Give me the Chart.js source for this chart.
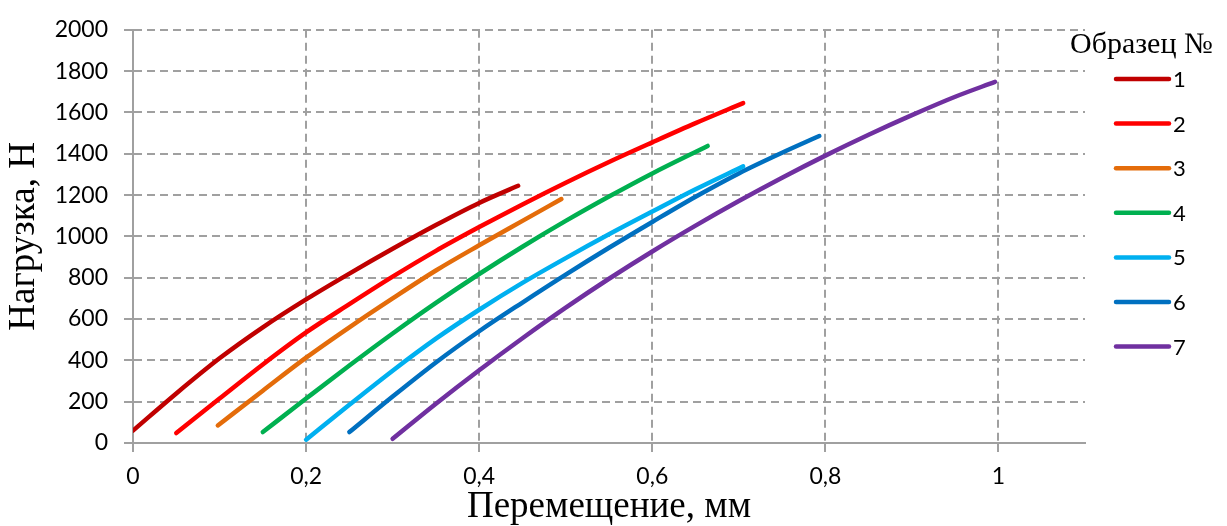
<!DOCTYPE html>
<html>
<head>
<meta charset="utf-8">
<script src="https://cdn.jsdelivr.net/npm/chart.js@4/dist/chart.umd.min.js"></script>
<style>
  body { margin: 0; background: #fff; }
</style>
</head>
<body>
<canvas id="line-chart" width="1227" height="526"></canvas>
<script>
// values: [перемещение мм, нагрузка Н]
var sample1 = [[0, 60], [0.05, 240], [0.1, 410], [0.15, 560], [0.2, 695], [0.25, 820], [0.3, 940], [0.35, 1055], [0.4, 1162], [0.445, 1245]];
var sample2 = [[0.05, 48], [0.1, 215], [0.15, 380], [0.2, 535], [0.25, 672], [0.3, 805], [0.35, 930], [0.4, 1045], [0.45, 1155], [0.5, 1260], [0.55, 1360], [0.6, 1455], [0.65, 1548], [0.705, 1645]];
var sample3 = [[0.098, 85], [0.15, 253], [0.2, 413], [0.25, 560], [0.3, 700], [0.35, 835], [0.4, 957], [0.45, 1075], [0.495, 1181]];
var sample4 = [[0.15, 53], [0.2, 215], [0.25, 375], [0.3, 530], [0.35, 678], [0.4, 818], [0.45, 950], [0.5, 1075], [0.55, 1193], [0.6, 1305], [0.664, 1438]];
var sample5 = [[0.2, 16], [0.25, 185], [0.3, 350], [0.35, 505], [0.4, 645], [0.45, 775], [0.5, 895], [0.55, 1010], [0.6, 1120], [0.65, 1228], [0.705, 1339]];
var sample6 = [[0.25, 53], [0.3, 225], [0.35, 390], [0.4, 541], [0.45, 680], [0.5, 815], [0.55, 945], [0.6, 1070], [0.65, 1192], [0.7, 1305], [0.75, 1405], [0.793, 1486]];
var sample7 = [[0.3, 20], [0.35, 190], [0.4, 352], [0.45, 507], [0.5, 655], [0.55, 795], [0.6, 927], [0.65, 1052], [0.7, 1171], [0.75, 1284], [0.8, 1391], [0.85, 1492], [0.9, 1587], [0.95, 1676], [0.996, 1748]];

var samples = [sample1, sample2, sample3, sample4, sample5, sample6, sample7];
var sampleNames = ["1", "2", "3", "4", "5", "6", "7"];
var colors = ["#C00000", "#FF0000", "#E46C0A", "#00B050", "#00B0F0", "#0070C0", "#7030A0"];

var xTicks = [0, 0.2, 0.4, 0.6, 0.8, 1];
var yTicks = [0, 200, 400, 600, 800, 1000, 1200, 1400, 1600, 1800, 2000];

var gridColor = "#A0A0A0";
var tickFont = { family: "Lato", size: 23 };
var titleFont = { family: "Liberation Serif", size: 37, lineHeight: 1 };

var datasets = samples.map(function (pts, i) {
    return {
        label: sampleNames[i],
        data: pts.map(function (p) { return { x: p[0], y: p[1] }; }),
        borderColor: colors[i],
        backgroundColor: colors[i],
        borderWidth: 4.5,
        borderCapStyle: "round",
        pointRadius: 0,
        showLine: true,
        cubicInterpolationMode: "monotone"
    };
});

// legend drawn by hand so it sits where Excel put it
var sideLegend = {
    id: "sideLegend",
    afterDraw: function (chart) {
        var ctx = chart.ctx;
        var right = chart.chartArea.right;
        ctx.save();
        ctx.fillStyle = "#000";
        ctx.font = "30px 'Liberation Serif'";
        ctx.textBaseline = "alphabetic";
        ctx.textAlign = "left";
        ctx.fillText("Образец №", right - 15, 53);
        ctx.font = "22px Lato";
        ctx.textBaseline = "middle";
        chart.data.datasets.forEach(function (ds, i) {
            var y = 79 + i * 44.6;
            ctx.strokeStyle = ds.borderColor;
            ctx.lineWidth = 4.5;
            ctx.lineCap = "round";
            ctx.beginPath();
            ctx.moveTo(right + 31, y);
            ctx.lineTo(right + 84, y);
            ctx.stroke();
            ctx.fillText(ds.label, right + 88, y + 1);
        });
        ctx.restore();
    }
};

var ctx = document.getElementById("line-chart");
var chart = new Chart(ctx, {
    type: "scatter",
    data: { datasets: datasets },
    plugins: [sideLegend],
    options: {
        responsive: false,
        animation: false,
        layout: { padding: { left: 0, top: 25, right: 142, bottom: 0 } },
        plugins: {
            legend: { display: false },
            tooltip: { enabled: false }
        },
        scales: {
            x: {
                type: "linear",
                min: 0,
                max: 1.1,
                afterBuildTicks: function (scale) {
                    scale.ticks = xTicks.map(function (v) { return { value: v }; });
                },
                afterFit: function (scale) { scale.height = 83; },
                grid: { color: gridColor, lineWidth: 2, tickLength: 9, tickColor: gridColor, tickWidth: 2 },
                border: { display: true, color: gridColor, width: 2, dash: [8, 5] },
                ticks: {
                    color: "#000",
                    font: tickFont,
                    padding: 11,
                    maxRotation: 0,
                    callback: function (v) { return String(Math.round(v * 10) / 10).replace(".", ","); }
                },
                title: { display: true, text: "Перемещение, мм", color: "#000", font: titleFont, padding: { top: 0, bottom: 0 } }
            },
            y: {
                min: 0,
                max: 2000,
                afterBuildTicks: function (scale) {
                    scale.ticks = yTicks.map(function (v) { return { value: v }; });
                },
                afterFit: function (scale) { scale.width = 133; },
                grid: { color: gridColor, lineWidth: 2, tickLength: 9, tickColor: gridColor, tickWidth: 2 },
                border: { display: true, color: gridColor, width: 2, dash: [8, 5] },
                ticks: {
                    color: "#000",
                    font: tickFont,
                    padding: 16,
                    callback: function (v) { return String(v); }
                },
                title: { display: true, text: "Нагрузка, Н", color: "#000", font: titleFont, padding: { top: 6, bottom: 0 } }
            }
        }
    }
});
</script>
</body>
</html>
